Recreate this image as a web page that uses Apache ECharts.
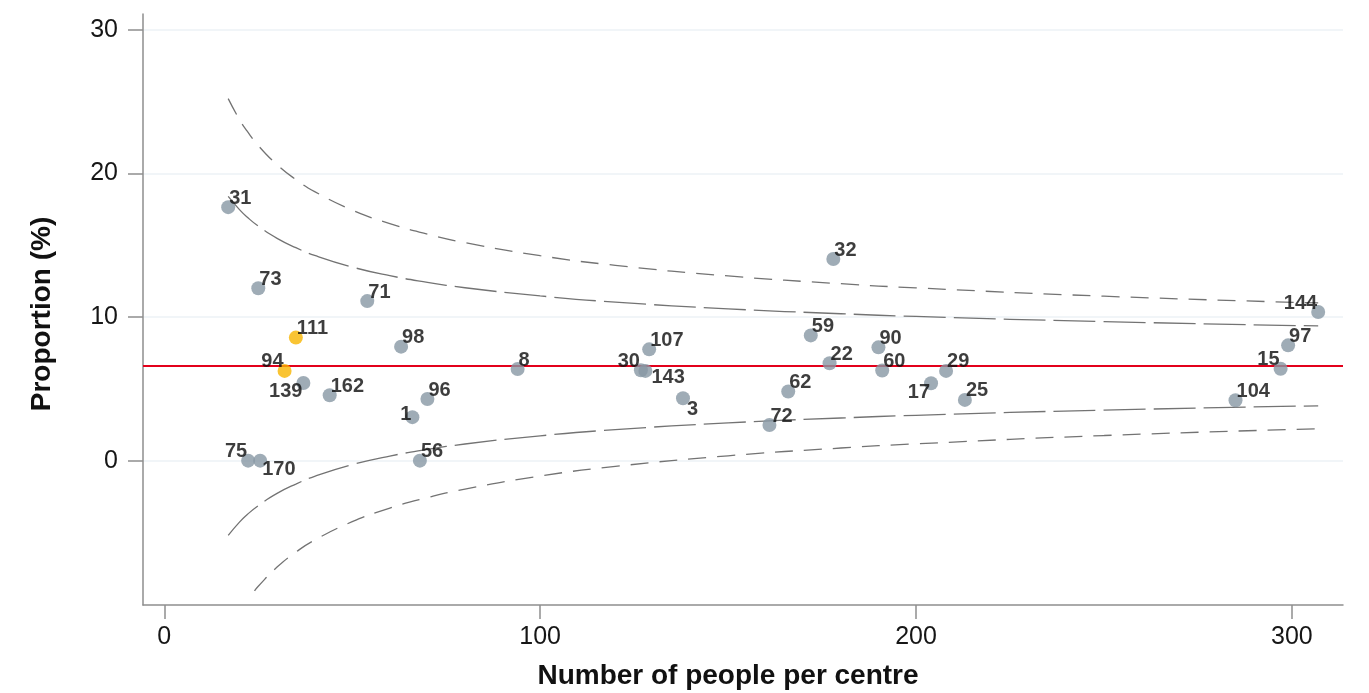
<!DOCTYPE html>
<html>
<head>
<meta charset="utf-8">
<title>Funnel plot: proportion by centre size</title>
<script src="https://cdn.jsdelivr.net/npm/echarts@6/dist/echarts.min.js"></script>
<style>
  html, body { margin: 0; padding: 0; background: #fff; }
  #chart { width: 1369px; height: 693px; }
</style>
</head>
<body>
<div id="chart"></div>
<script>
// Centre identifiers, number of people per centre and observed proportion (%)
const centreIds = [31, 73, 71, 111, 98, 94, 139, 162, 96, 1, 75, 170, 56, 8, 107, 30, 143, 3,
                   32, 59, 90, 22, 60, 29, 17, 62, 25, 72, 144, 97, 15, 104];
const peoplePerCentre = [17, 25, 54, 35, 63, 32, 37, 44, 70, 66, 22.3, 25.5, 68, 94, 129, 126.8, 128, 138,
                         178, 172, 190, 177, 191, 208, 204, 166, 213, 161, 307, 299, 297, 285];
const proportionPct = [17.65, 12.0, 11.11, 8.57, 7.94, 6.25, 5.41, 4.55, 4.29, 3.03, 0, 0, 0, 6.38, 7.75, 6.3, 6.25, 4.35,
                       14.04, 8.72, 7.89, 6.78, 6.28, 6.25, 5.39, 4.82, 4.23, 2.48, 10.35, 8.03, 6.4, 4.21];
// Highlighted centres
const highlightedIds = [111, 94];

// Overall proportion (%)
const overallPct = 6.6;

// Control limits (95% and 99.8%) against centre size
const limitN = [17, 20, 22, 25, 30, 35, 40, 50, 60, 70, 80, 100, 120, 150, 180, 200, 250, 307];
const upper998 = [25.21, 23.75, 22.96, 21.94, 20.61, 19.57, 18.73, 17.45, 16.50, 15.77, 15.18, 14.27, 13.60, 12.86, 12.32, 12.03, 11.45, 10.98];
const upper95 = [18.40, 17.48, 16.97, 16.33, 15.48, 14.83, 14.29, 13.48, 12.88, 12.42, 12.04, 11.47, 11.04, 10.57, 10.23, 10.04, 9.68, 9.38];
const lower95 = [-5.20, -4.28, -3.77, -3.13, -2.28, -1.63, -1.09, -0.28, 0.32, 0.78, 1.16, 1.73, 2.16, 2.63, 2.97, 3.16, 3.52, 3.82];
const lower998N = [24, 25, 30, 35, 40, 50, 60, 70, 80, 100, 120, 150, 180, 200, 250, 307];
const lower998 = [-9.06, -8.74, -7.41, -6.37, -5.53, -4.25, -3.30, -2.57, -1.98, -1.07, -0.40, 0.34, 0.88, 1.17, 1.75, 2.22];

// Tick labels
const xTicks = [0, 100, 200, 300];
const yTicks = [0, 10, 20, 30];

// Where each centre's label sits around its marker
const labelSide = {
  94: 'tl', 30: 'tl', 75: 'tl', 144: 'tl', 15: 'tl',
  139: 'bl', 17: 'bl',
  170: 'br', 143: 'br2', 3: 'br3',
  1: 'l'
};
const labelLayouts = {
  tr:  { position: 'right', offset: [-6, -9] },
  tl:  { position: 'left',  offset: [6, -9] },
  bl:  { position: 'left',  offset: [6, 9] },
  br:  { position: 'right', offset: [-5, 9] },
  br2: { position: 'right', offset: [-1, 7] },
  br3: { position: 'right', offset: [-3, 11] },
  l:   { position: 'left',  offset: [6, -3] }
};

const GREY_DOT = '#8797a4';
const GOLD_DOT = '#f7b500';
const LIMIT_COLOR = '#737373';
const AXIS_COLOR = '#8e8e8e';

const points = centreIds.map((id, i) => {
  const lay = labelLayouts[labelSide[id] || 'tr'];
  return {
    value: [peoplePerCentre[i], proportionPct[i]],
    name: String(id),
    itemStyle: { color: highlightedIds.includes(id) ? GOLD_DOT : GREY_DOT },
    label: { position: lay.position, offset: lay.offset }
  };
});

function limitSeries(ns, vals, dash) {
  return {
    type: 'line',
    data: ns.map((n, i) => [n, vals[i]]),
    showSymbol: false,
    smooth: true,
    silent: true,
    z: 2,
    lineStyle: { color: LIMIT_COLOR, width: 1.3, type: dash }
  };
}

const chart = echarts.init(document.getElementById('chart'), null, { renderer: 'canvas' });

chart.setOption({
  animation: false,
  backgroundColor: '#ffffff',
  grid: { left: 143, right: 26, top: 14, bottom: 88, containLabel: false },
  xAxis: {
    type: 'value',
    min: -5.67,
    max: 313.6,
    axisLine: { show: true, onZero: false, lineStyle: { color: AXIS_COLOR, width: 1.5 } },
    axisTick: { show: true, length: 14, customValues: xTicks, lineStyle: { color: AXIS_COLOR, width: 1.5 } },
    axisLabel: {
      customValues: xTicks, margin: 20,
      fontFamily: 'Liberation Sans, Arial, sans-serif', fontSize: 25, color: '#161616'
    },
    splitLine: { show: false }
  },
  yAxis: {
    type: 'value',
    min: -10.05,
    max: 31.1,
    axisLine: { show: true, onZero: false, lineStyle: { color: AXIS_COLOR, width: 1.5 } },
    axisTick: { show: true, length: 15, customValues: yTicks, lineStyle: { color: AXIS_COLOR, width: 1.5 } },
    axisLabel: {
      customValues: yTicks, margin: 25,
      fontFamily: 'Liberation Sans, Arial, sans-serif', fontSize: 25, color: '#161616'
    },
    splitLine: { show: true, lineStyle: { color: '#edf2f6', width: 1.5 } }
  },
  graphic: [
    {
      type: 'text',
      x: 728, y: 676,
      style: {
        text: 'Number of people per centre',
        font: 'bold 28px "Liberation Sans", Arial, sans-serif',
        fill: '#111', align: 'center', verticalAlign: 'middle'
      }
    },
    {
      type: 'text',
      x: 42, y: 314,
      rotation: Math.PI / 2,
      style: {
        text: 'Proportion (%)',
        font: 'bold 28px "Liberation Sans", Arial, sans-serif',
        fill: '#111', align: 'center', verticalAlign: 'middle'
      }
    }
  ],
  series: [
    limitSeries(limitN, upper998, [18, 11]),
    limitSeries(limitN, upper95, [42, 8]),
    limitSeries(limitN, lower95, [42, 8]),
    limitSeries(lower998N, lower998, [18, 11]),
    {
      type: 'scatter',
      data: points,
      symbolSize: 14,
      z: 4,
      label: {
        show: true,
        formatter: p => p.name,
        distance: 0,
        fontFamily: 'Liberation Sans, Arial, sans-serif',
        fontWeight: 'bold',
        fontSize: 20,
        color: '#0d0d0d'
      },
      markLine: {
        silent: true,
        symbol: 'none',
        label: { show: false },
        lineStyle: { color: '#e3001b', width: 2, type: 'solid' },
        data: [{ yAxis: overallPct }],
        z: 3
      }
    }
  ]
});
</script>
</body>
</html>
